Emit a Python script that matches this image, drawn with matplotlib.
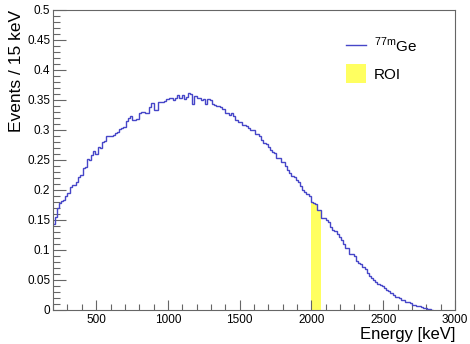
import matplotlib
matplotlib.use("Agg")
import matplotlib.pyplot as plt
import numpy as np
from matplotlib.lines import Line2D
from matplotlib.patches import Patch
from matplotlib.ticker import MultipleLocator, FormatStrFormatter

plt.rcParams['font.family'] = ['Liberation Sans', 'DejaVu Sans']
plt.rcParams['mathtext.fontset'] = 'custom'
plt.rcParams['mathtext.rm'] = 'Liberation Sans'

# histogram: 15 keV bins starting at 195 keV
bin_start = 195
bin_width = 15
counts = [
    0.143, 0.155, 0.170, 0.178, 0.182, 0.184, 0.190, 0.195, 0.205, 0.208,  # 195
    0.209, 0.213, 0.222, 0.225, 0.236, 0.238, 0.252, 0.250, 0.258, 0.265,  # 345
    0.260, 0.272, 0.270, 0.280, 0.282, 0.290, 0.290, 0.290, 0.291, 0.295,  # 495
    0.296, 0.302, 0.304, 0.305, 0.315, 0.320, 0.323, 0.317, 0.317, 0.318,  # 645
    0.329, 0.330, 0.330, 0.328, 0.329, 0.338, 0.345, 0.333, 0.334, 0.346,  # 795
    0.346, 0.347, 0.348, 0.351, 0.353, 0.353, 0.350, 0.354, 0.358, 0.354,  # 945
    0.358, 0.352, 0.355, 0.361, 0.360, 0.344, 0.357, 0.353, 0.353, 0.350,  # 1095
    0.352, 0.343, 0.351, 0.350, 0.343, 0.342, 0.340, 0.340, 0.338, 0.335,  # 1245
    0.329, 0.329, 0.325, 0.329, 0.323, 0.316, 0.314, 0.314, 0.309, 0.308,  # 1395
    0.306, 0.303, 0.300, 0.300, 0.294, 0.293, 0.290, 0.284, 0.279, 0.276,  # 1545
    0.271, 0.266, 0.264, 0.261, 0.254, 0.253, 0.247, 0.246, 0.240, 0.233,  # 1695
    0.228, 0.224, 0.222, 0.217, 0.214, 0.207, 0.200, 0.197, 0.194, 0.190,  # 1845
    0.180, 0.178, 0.177, 0.167, 0.166, 0.154, 0.153, 0.150, 0.146, 0.139,  # 1995
    0.133, 0.132, 0.127, 0.122, 0.117, 0.110, 0.104, 0.103, 0.094, 0.093,  # 2145
    0.090, 0.082, 0.079, 0.077, 0.072, 0.068, 0.062, 0.056, 0.053, 0.050,  # 2295
    0.046, 0.043, 0.042, 0.040, 0.036, 0.033, 0.031, 0.028, 0.025, 0.022,  # 2445
    0.022, 0.020, 0.017, 0.017, 0.014, 0.013, 0.011, 0.009, 0.008, 0.007,  # 2595
    0.006, 0.005, 0.004, 0.003, 0.002, 0.001, 0.0,                         # 2745
]
roi_lo, roi_hi = 1995, 2070

counts = np.array(counts)
edges = bin_start + bin_width * np.arange(len(counts) + 1)
i0 = (roi_lo - bin_start) // bin_width
i1 = (roi_hi - bin_start) // bin_width

fig = plt.figure(figsize=(4.70, 3.44), dpi=100)
ax = fig.add_axes([0.113, 0.099, 0.855, 0.872])

ax.stairs(counts[i0:i1], edges[i0:i1 + 1], fill=True, color='#ffff60', zorder=1)
ax.stairs(counts, edges, color='#4646c8', lw=1.0, zorder=2)

ax.set_xlim(200, 3000)
ax.set_ylim(0, 0.5)
ax.xaxis.set_major_locator(MultipleLocator(500))
ax.xaxis.set_minor_locator(MultipleLocator(100))
ax.yaxis.set_major_locator(MultipleLocator(0.05))
ax.yaxis.set_minor_locator(MultipleLocator(0.01))
ax.yaxis.set_major_formatter(FormatStrFormatter('%g'))

gray = '#666666'
for s in ax.spines.values():
    s.set_color(gray)
    s.set_linewidth(0.8)
ax.tick_params(which='both', direction='in', color=gray, labelsize=8.5,
               top=False, right=False, width=0.8)
ax.tick_params(axis='x', which='major', length=7, pad=3)
ax.tick_params(axis='x', which='minor', length=4)
ax.tick_params(axis='y', which='major', length=9, pad=2)
ax.tick_params(axis='y', which='minor', length=5)

ax.set_xlabel('Energy [keV]', fontsize=12, loc='right', labelpad=1)
ax.set_ylabel('Events / 15 keV', fontsize=12.5, loc='top', labelpad=2)

handles = [Line2D([], [], color='#4646c8', lw=1.0),
           Patch(facecolor='#ffff60', edgecolor='none')]
ax.legend(handles, [r'$^{\rm 77m}$Ge', 'ROI'], loc='upper left',
          bbox_to_anchor=(0.695, 0.96), frameon=False, fontsize=11,
          handlelength=1.3, handleheight=1.6, handletextpad=0.5,
          labelspacing=0.45)

fig.savefig('out.png', dpi=100)
